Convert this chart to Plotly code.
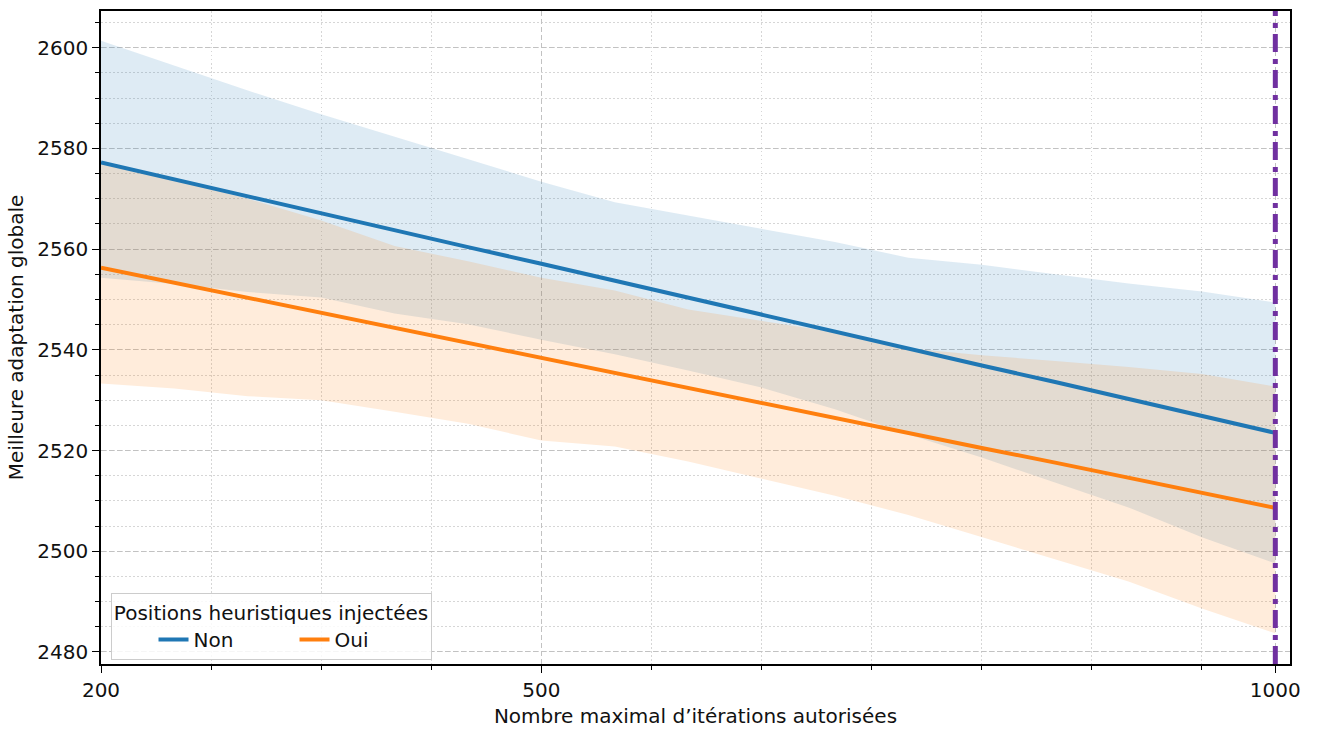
import plotly.graph_objects as go

# Iteration budgets evaluated
iterations = [200, 250, 300, 350, 400, 450, 500, 550, 600, 650, 700, 750, 800, 850, 900, 950, 1000]

# Without injected heuristic positions ("Non")
non_mean = [2577.2, 2573.8, 2570.5, 2567.1, 2563.8, 2560.4, 2557.1, 2553.7, 2550.3,
            2547.0, 2543.6, 2540.3, 2536.9, 2533.6, 2530.2, 2526.9, 2523.5]
non_upper = [2601.4, 2596.4, 2591.5, 2586.8, 2582.3, 2577.8, 2573.4, 2569.3, 2566.7,
             2564.0, 2561.4, 2558.3, 2556.9, 2555.0, 2553.2, 2551.6, 2549.4]
non_lower = [2554.3, 2553.1, 2551.5, 2550.4, 2547.2, 2545.1, 2542.0, 2539.1, 2535.9,
             2532.5, 2528.2, 2523.2, 2518.6, 2513.7, 2508.7, 2502.8, 2497.6]

# With injected heuristic positions ("Oui")
oui_mean = [2556.3, 2553.3, 2550.3, 2547.4, 2544.4, 2541.4, 2538.4, 2535.4, 2532.5,
            2529.5, 2526.5, 2523.5, 2520.5, 2517.6, 2514.6, 2511.6, 2508.6]
oui_upper = [2577.0, 2573.8, 2570.0, 2565.7, 2560.6, 2557.6, 2554.3, 2551.8, 2548.0,
             2545.7, 2543.5, 2540.3, 2538.9, 2537.8, 2536.6, 2535.2, 2532.7]
oui_lower = [2533.3, 2532.3, 2530.8, 2530.0, 2527.7, 2525.3, 2522.0, 2520.8, 2517.8,
             2514.4, 2511.0, 2507.2, 2502.8, 2498.5, 2494.0, 2488.6, 2483.7]

max_iter_limit = 1000

x_major_ticks = [200, 500, 1000]
x_minor_ticks = [275, 350, 425, 575, 650, 725, 800, 875, 950]
y_major_ticks = [2480, 2500, 2520, 2540, 2560, 2580, 2600]

BLUE = "#1f77b4"
ORANGE = "#ff7f0e"
FONT = "DejaVu Sans"
TEXT = "#111111"
FS = 20

fig = go.Figure()

series = [
    ("Non", non_mean, non_upper, non_lower, BLUE, "rgba(31,119,180,0.15)"),
    ("Oui", oui_mean, oui_upper, oui_lower, ORANGE, "rgba(255,127,14,0.15)"),
]

# confidence bands first, so the mean lines sit on top
for name, mean, upper, lower, color, fill in series:
    fig.add_trace(go.Scatter(x=iterations, y=upper, mode="lines", line=dict(width=0),
                             showlegend=False, hoverinfo="skip"))
    fig.add_trace(go.Scatter(x=iterations, y=lower, mode="lines", line=dict(width=0),
                             fill="tonexty", fillcolor=fill, showlegend=False,
                             hoverinfo="skip"))

for name, mean, upper, lower, color, fill in series:
    fig.add_trace(go.Scatter(x=iterations, y=mean, mode="lines", name=name,
                             line=dict(color=color, width=4)))

fig.add_vline(x=max_iter_limit, line=dict(color="#7030A0", width=5,
                                         dash="18px,6px,5px,7px"))

axis_common = dict(
    showline=True, linecolor="black", linewidth=1.5, mirror=True,
    ticks="outside", ticklen=7, tickwidth=1.2, tickcolor="black",
    showgrid=True, gridcolor="#c2c2c2", gridwidth=1.2, griddash="5px,3px",
    zeroline=False,
    tickfont=dict(family=FONT, size=FS, color=TEXT),
)
minor_common = dict(ticks="outside", ticklen=4, tickwidth=1, tickcolor="black",
                    showgrid=True, gridcolor="#d6d6d6", gridwidth=1,
                    griddash="1.5px,2.5px")

fig.update_xaxes(
    **axis_common,
    range=[200, 1010],
    tickmode="array", tickvals=x_major_ticks,
    minor=dict(tickmode="array", tickvals=x_minor_ticks, **minor_common),
    title=dict(text="Nombre maximal d’itérations autorisées",
               font=dict(family=FONT, size=FS, color=TEXT), standoff=8),
)

fig.update_yaxes(
    **axis_common,
    range=[2477.6, 2607.3],
    tickmode="array", tickvals=y_major_ticks,
    minor=dict(dtick=5, tick0=2480, **minor_common),
    title=dict(text="Meilleure adaptation globale",
               font=dict(family=FONT, size=FS, color=TEXT), standoff=8),
)

fig.update_layout(
    width=1317, height=733,
    margin=dict(l=101, r=27, t=9, b=65),
    plot_bgcolor="white", paper_bgcolor="white",
    font=dict(family=FONT, size=FS, color=TEXT),
    legend=dict(
        title=dict(text="Positions heuristiques injectées", side="top center",
                   font=dict(family=FONT, size=FS, color=TEXT)),
        orientation="h", traceorder="normal",
        x=0.008, y=0.006, xanchor="left", yanchor="bottom",
        bgcolor="rgba(255,255,255,0.85)", bordercolor="#cccccc", borderwidth=1,
        font=dict(family=FONT, size=FS, color=TEXT),
        indentation=42,
        entrywidthmode="pixels", entrywidth=54,
    ),
)

fig.write_html("out.html")
